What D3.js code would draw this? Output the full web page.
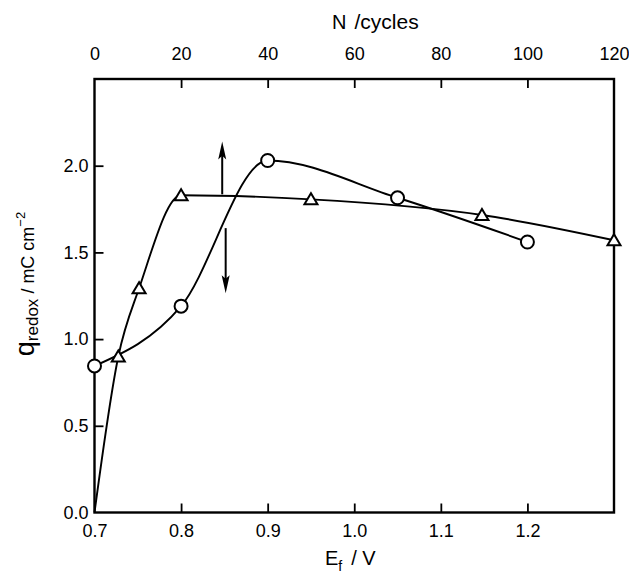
<!DOCTYPE html>
<html>
<head>
<meta charset="utf-8">
<script src="https://cdn.jsdelivr.net/npm/d3@7/dist/d3.min.js"></script>
<style>
  html, body { margin: 0; padding: 0; background: #fff; }
  svg { display: block; }
  text { font-family: "Liberation Sans", Arial, Helvetica, sans-serif; fill: #000; }
</style>
</head>
<body>
<svg id="chart" width="629" height="581"></svg>
<script>
// ---- data ----
const eTicks = [0.7, 0.8, 0.9, 1.0, 1.1, 1.2];
const nTicks = [0, 20, 40, 60, 80, 100, 120];
const qTicks = [0.0, 0.5, 1.0, 1.5, 2.0];

// circles: q_redox vs E_f (bottom axis)
const circleE = [0.7, 0.8, 0.9, 1.05, 1.2];
const circleQ = [0.845, 1.19, 2.03, 1.815, 1.56];

// triangles: q_redox vs N (top axis); first point is curve start (no marker)
const triN = [0, 5.5, 10.3, 20, 50, 89.5, 120];
const triQ = [0.0, 0.90, 1.293, 1.83, 1.806, 1.716, 1.57];
const triMarker = [false, true, true, true, true, true, true];

// arrows
const upArrow = { n: 29.5, q0: 1.835, q1: 2.14 };
const downArrow = { e: 0.8515, q0: 1.64, q1: 1.265 };

// ---- layout ----
const L = 94.5, R = 614, T = 79, B = 512.5;
const svg = d3.select("#chart");

const xE = d3.scaleLinear().domain([0.7, 1.3]).range([L, R]);
const xN = d3.scaleLinear().domain([0, 120]).range([L, R]);
const y = d3.scaleLinear().domain([0, 2.5]).range([B, T]);

// frame
svg.append("rect")
  .attr("x", L).attr("y", T).attr("width", R - L).attr("height", B - T)
  .attr("fill", "none").attr("stroke", "#000").attr("stroke-width", 2.4);

function styleAxis(g) {
  g.select(".domain").remove();
  g.selectAll(".tick line").attr("stroke", "#000").attr("stroke-width", 1.8);
  g.selectAll(".tick text").attr("font-size", 18).attr("fill", "#000")
    .attr("font-family", '"Liberation Sans", Arial, sans-serif');
}

// bottom axis
svg.append("g").attr("transform", `translate(0,${B})`)
  .call(d3.axisBottom(xE).tickValues(eTicks).tickSize(-9).tickPadding(12)
    .tickFormat(d3.format(".1f")))
  .call(styleAxis)
  .call(g => g.selectAll(".tick").filter(d => d === 0.7).select("line").remove());

// top axis
svg.append("g").attr("transform", `translate(0,${T})`)
  .call(d3.axisTop(xN).tickValues(nTicks).tickSize(-9).tickPadding(19)
    .tickFormat(d3.format("d")))
  .call(styleAxis)
  .call(g => g.selectAll(".tick").filter(d => d === 0 || d === 120).select("line").remove());

// left axis
svg.append("g").attr("transform", `translate(${L},0)`)
  .call(d3.axisLeft(y).tickValues(qTicks).tickSize(-9).tickPadding(6)
    .tickFormat(d3.format(".1f")))
  .call(styleAxis)
  .call(g => g.selectAll(".tick").filter(d => d === 0).select("line").remove());

// curves
const circData = circleE.map((e, i) => ({ x: xE(e), y: y(circleQ[i]) }));
const triData = triN.map((n, i) => ({ x: xN(n), y: y(triQ[i]), m: triMarker[i] }));
const line = d3.line().x(d => d.x).y(d => d.y).curve(d3.curveMonotoneX);

svg.append("path").attr("d", line(triData))
  .attr("fill", "none").attr("stroke", "#000").attr("stroke-width", 1.9);
svg.append("path").attr("d", line(circData))
  .attr("fill", "none").attr("stroke", "#000").attr("stroke-width", 1.9);

// arrows
function arrow(x, y0, y1) {
  const dir = y1 < y0 ? -1 : 1;
  const head = 18, hw = 4;
  svg.append("line").attr("x1", x).attr("x2", x)
    .attr("y1", y0).attr("y2", y1 - dir * head * 0.6)
    .attr("stroke", "#000").attr("stroke-width", 2);
  svg.append("path")
    .attr("d", `M${x},${y1} L${x - hw},${y1 - dir * head} L${x},${y1 - dir * head * 0.8} L${x + hw},${y1 - dir * head} Z`)
    .attr("fill", "#000");
}
arrow(xN(upArrow.n), y(upArrow.q0), y(upArrow.q1));
arrow(xE(downArrow.e), y(downArrow.q0), y(downArrow.q1));

// markers
svg.append("g").selectAll("path").data(triData.filter(d => d.m)).join("path")
  .attr("transform", d => `translate(${d.x},${d.y})`)
  .attr("d", "M-6.5,5 L6.5,5 L0,-6 Z")
  .attr("fill", "#fff").attr("stroke", "#000").attr("stroke-width", 2);

svg.append("g").selectAll("circle").data(circData).join("circle")
  .attr("cx", d => d.x).attr("cy", d => d.y).attr("r", 6.5)
  .attr("fill", "#fff").attr("stroke", "#000").attr("stroke-width", 2);

// axis titles
const topTitle = svg.append("text").attr("x", 332).attr("y", 29);
topTitle.append("tspan").attr("font-size", 20).text("N");
topTitle.append("tspan").attr("font-size", 21).attr("dx", 8).text("/cycles");

const botTitle = svg.append("text").attr("x", 325).attr("y", 565);
botTitle.append("tspan").attr("font-size", 20).text("E");
botTitle.append("tspan").attr("font-size", 14).attr("dy", 6).text("f");
botTitle.append("tspan").attr("font-size", 20).attr("dy", -6).attr("dx", 9).text("/ V");

const yTitle = svg.append("text")
  .attr("transform", "translate(34,284) rotate(-90)")
  .attr("text-anchor", "middle");
yTitle.append("tspan").attr("font-size", 27).text("q");
yTitle.append("tspan").attr("font-size", 17).attr("dy", 4).text("redox");
yTitle.append("tspan").attr("font-size", 18).attr("dy", -4).text(" / mC cm");
yTitle.append("tspan").attr("font-size", 13).attr("dy", -9).text("−2");
</script>
</body>
</html>
